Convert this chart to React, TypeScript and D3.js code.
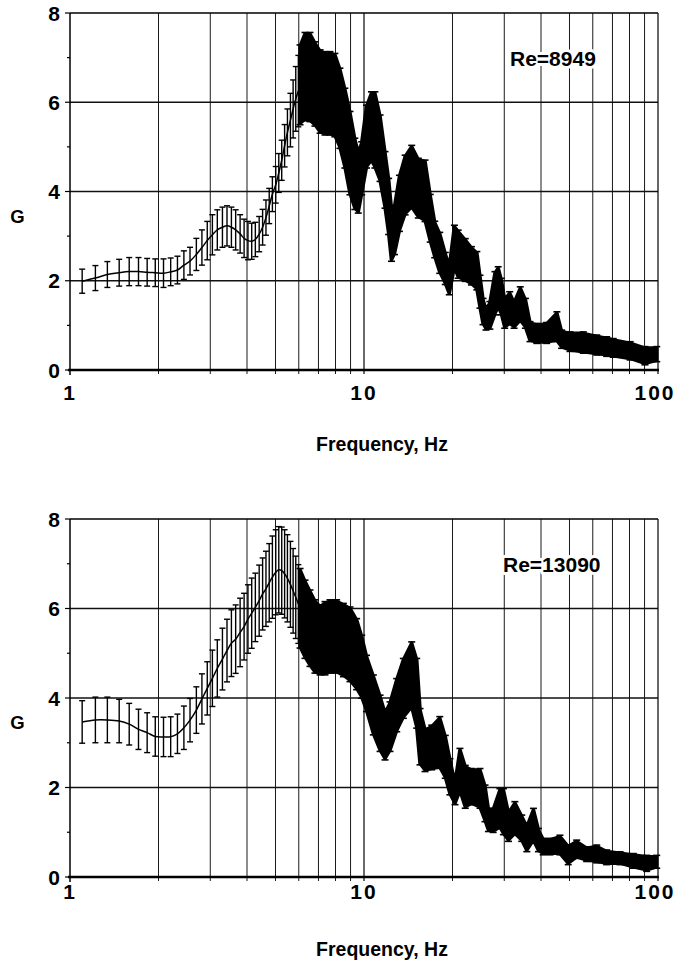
import React from 'react';
import * as d3 from 'd3';

const W = 676;
const H = 964;

// ---------- Re = 8949 (top panel) ----------
// individual error bars at low frequency
const topBarFreq = [1.10,1.22,1.34,1.47,1.59,1.71,1.83,1.95,2.08,2.20,2.32,2.44,2.56,2.69,2.81,2.93,3.05,3.17,3.30,3.42,3.54,3.66,3.79,3.91,4.03,4.15,4.27,4.40,4.52,4.64,4.76,4.88,5.01,5.13,5.25,5.37,5.49,5.62,5.74,5.86,5.98];
const topBarHi = [2.26,2.34,2.43,2.48,2.52,2.52,2.50,2.49,2.49,2.51,2.55,2.67,2.75,2.95,3.14,3.33,3.48,3.59,3.65,3.68,3.65,3.59,3.48,3.38,3.33,3.29,3.31,3.44,3.60,3.81,4.07,4.33,4.56,4.85,5.15,5.50,5.85,6.20,6.50,6.80,7.05];
const topBarLo = [1.72,1.78,1.85,1.88,1.89,1.89,1.88,1.87,1.85,1.89,1.93,2.03,2.13,2.23,2.35,2.47,2.58,2.69,2.75,2.78,2.75,2.69,2.62,2.52,2.47,2.48,2.54,2.65,2.80,3.02,3.28,3.55,3.74,3.98,4.25,4.55,4.80,5.00,5.20,5.35,5.45];
// dense region: envelope of the overlapping error bars
const topBandFreq = [6.06,6.30,6.55,6.81,7.09,7.37,7.66,7.96,8.28,8.61,8.96,9.31,9.56,9.82,10.2,10.6,10.89,11.34,11.79,12.13,12.4,12.7,13.2,13.8,14.53,15.3,16.13,16.8,17.4,18.1,18.9,19.5,20.3,20.9,22.1,23.2,24.2,24.8,25.4,26.0,26.8,27.9,28.6,29.3,30.1,31.3,32.4,34.0,35.4,36.7,38.7,41.8,45.3,47.0,50.2,55.7,61.9,66.9,70.4,80.4,90.3,99.0];
const topBandHi = [7.25,7.53,7.53,7.32,7.14,7.10,7.10,7.06,6.73,6.28,5.76,5.16,4.86,5.08,5.90,6.20,6.20,5.68,4.86,4.26,3.59,3.66,4.33,4.78,5.00,4.71,4.67,3.90,3.30,3.05,2.60,2.30,3.21,3.10,2.91,2.73,2.62,2.09,1.57,1.35,1.50,2.17,2.28,2.02,1.57,1.72,1.50,1.83,1.57,1.05,1.01,1.03,1.27,0.86,0.82,0.82,0.75,0.71,0.67,0.60,0.49,0.49];
const topBandLo = [5.53,5.62,5.60,5.50,5.34,5.30,5.30,5.26,5.00,4.56,3.96,3.63,3.55,3.96,4.56,4.71,4.56,4.26,3.66,3.07,2.47,2.62,3.14,3.51,3.66,3.44,3.36,2.90,2.55,2.20,1.95,1.72,2.32,2.09,2.02,1.94,1.83,1.42,1.05,0.93,0.95,1.27,1.42,1.27,0.97,1.05,0.97,1.12,0.97,0.67,0.63,0.63,0.67,0.52,0.45,0.41,0.37,0.34,0.32,0.26,0.15,0.22];

// ---------- Re = 13090 (bottom panel) ----------
const botBarFreq = [1.10,1.22,1.34,1.47,1.59,1.71,1.83,1.95,2.08,2.20,2.32,2.44,2.56,2.69,2.81,2.93,3.05,3.17,3.30,3.42,3.54,3.66,3.79,3.91,4.03,4.15,4.27,4.40,4.52,4.64,4.76,4.88,5.01,5.13,5.25,5.37,5.49,5.62,5.74,5.86,5.98];
const botBarHi = [3.94,4.02,4.02,3.97,3.88,3.75,3.67,3.58,3.57,3.58,3.64,3.82,3.99,4.25,4.54,4.81,5.07,5.30,5.56,5.76,5.97,6.08,6.23,6.34,6.53,6.68,6.79,6.97,7.13,7.28,7.45,7.62,7.76,7.83,7.82,7.76,7.65,7.50,7.34,7.17,6.98];
const botBarLo = [2.99,3.00,3.00,3.00,2.95,2.85,2.78,2.70,2.69,2.69,2.76,2.85,3.02,3.21,3.42,3.62,3.81,4.02,4.18,4.36,4.48,4.55,4.70,4.85,5.00,5.11,5.26,5.38,5.52,5.60,5.70,5.78,5.86,5.90,5.87,5.79,5.70,5.58,5.45,5.33,5.22];
const botBandFreq = [6.06,6.30,6.55,6.81,7.09,7.37,7.66,8.07,8.51,8.96,9.44,9.82,10.2,10.76,11.34,11.79,12.26,12.92,13.61,14.53,15.11,15.51,16.13,17.0,18.1,18.9,19.6,20.4,21.2,22.1,23.2,24.8,25.8,26.5,27.5,29.0,29.8,31.0,32.6,34.4,35.8,37.7,39.2,40.7,42.9,46.4,49.5,52.9,57.2,61.9,66.9,74.3,82.4,91.5,99.0];
const botBandHi = [6.86,6.60,6.38,6.16,6.04,6.12,6.16,6.16,6.08,6.00,5.74,5.37,4.92,4.48,4.03,3.66,3.88,4.40,4.85,5.22,4.85,3.73,3.28,3.36,3.55,3.13,2.61,2.09,2.84,2.46,2.39,2.39,2.02,1.50,1.50,1.94,1.94,1.42,1.65,1.35,1.12,1.50,1.05,0.83,0.83,0.90,0.68,0.79,0.64,0.68,0.57,0.53,0.49,0.45,0.45];
const botBandLo = [5.15,4.92,4.74,4.59,4.55,4.55,4.59,4.59,4.51,4.40,4.22,4.03,3.73,3.21,2.84,2.65,2.84,3.28,3.58,3.81,3.36,2.54,2.39,2.43,2.46,2.24,1.87,1.65,1.94,1.57,1.65,1.57,1.27,1.05,1.03,1.12,0.98,0.83,0.98,0.83,0.60,0.83,0.60,0.53,0.53,0.53,0.31,0.45,0.38,0.35,0.31,0.31,0.23,0.16,0.23];

// axes
const xDomain = [1, 100];
const yDomain = [0, 8];
const yTickValues = [0, 2, 4, 6, 8];
const xTickLabels = [1, 10, 100];
const xTitle = 'Frequency, Hz';
const yTitle = 'G';

const FONT = '"Liberation Sans", Arial, sans-serif';

const xScale = d3.scaleLog().domain(xDomain).range([70, 658]);

type PanelProps = {
  y: d3.ScaleLinear<number, number>;
  barF: number[]; barHi: number[]; barLo: number[];
  bandF: number[]; bandHi: number[]; bandLo: number[];
  label: string; labelX: number; labelY: number;
  tickLabelY: number; titleY: number; gY: number;
};

function Panel(p: PanelProps) {
  const x = xScale;
  const y = p.y;
  const y0 = y(0);
  const yTop = y(8);
  const xL = x(1);
  const xR = x(100);
  const grid = x.ticks().filter(t => t > 1 && t < 100);
  const bandIdx = d3.range(p.bandF.length);
  const barIdx = d3.range(p.barF.length);
  const area = d3.area<number>()
    .x(i => x(p.bandF[i]))
    .y0(i => y(p.bandLo[i]))
    .y1(i => y(p.bandHi[i]))
    .curve(d3.curveLinear);
  const mean = d3.line<number>()
    .x(i => x(p.barF[i]))
    .y(i => y((p.barHi[i] + p.barLo[i]) / 2))
    .curve(d3.curveCatmullRom);
  const cap = 3;
  const bandCap = 3.5;
  const minorY = d3.range(0, 9);
  return (
    <g>
      {/* vertical gridlines */}
      {grid.map(t => (
        <line key={'v' + t} x1={x(t)} x2={x(t)} y1={yTop} y2={y0 + 4} stroke="#1a1a1a" strokeWidth={t === 10 ? 1.3 : 1} />
      ))}
      {/* horizontal gridlines */}
      {[2, 4, 6].map(v => (
        <line key={'h' + v} x1={xL} x2={xR} y1={y(v)} y2={y(v)} stroke="#111" strokeWidth={1.3} />
      ))}
      {/* frame */}
      <line x1={xL} x2={xR} y1={yTop} y2={yTop} stroke="#000" strokeWidth={1.6} />
      <line x1={xR} x2={xR} y1={yTop} y2={y0 + 4} stroke="#000" strokeWidth={1.2} />
      <line x1={xL} x2={xL} y1={yTop} y2={y0 + 5} stroke="#000" strokeWidth={1.5} />
      {/* y ticks */}
      {minorY.map(v => (
        <line key={'yt' + v} x1={xL - (v % 2 === 0 ? 5 : 3)} x2={xL} y1={y(v)} y2={y(v)} stroke="#000" strokeWidth={1.2} />
      ))}
      {/* band of dense error bars */}
      <path d={area(bandIdx) || ''} fill="#000" stroke="#000" strokeWidth={3.6} strokeLinejoin="round" />
      {bandIdx.map(i => (
        <g key={'bb' + i} stroke="#000" strokeWidth={1.6}>
          <line x1={x(p.bandF[i]) - bandCap} x2={x(p.bandF[i]) + bandCap} y1={y(p.bandHi[i]) - 1.5} y2={y(p.bandHi[i]) - 1.5} />
          <line x1={x(p.bandF[i]) - bandCap} x2={x(p.bandF[i]) + bandCap} y1={y(p.bandLo[i]) + 1.5} y2={y(p.bandLo[i]) + 1.5} />
        </g>
      ))}
      {/* individual error bars */}
      {barIdx.map(i => {
        const xi = x(p.barF[i]);
        return (
          <g key={'eb' + i} stroke="#000" strokeWidth={1.4}>
            <line x1={xi} x2={xi} y1={y(p.barHi[i])} y2={y(p.barLo[i])} />
            <line x1={xi - cap} x2={xi + cap} y1={y(p.barHi[i])} y2={y(p.barHi[i])} />
            <line x1={xi - cap} x2={xi + cap} y1={y(p.barLo[i])} y2={y(p.barLo[i])} />
          </g>
        );
      })}
      <path d={mean(barIdx) || ''} fill="none" stroke="#000" strokeWidth={1.5} />
      {/* x axis */}
      <line x1={xL - 2} x2={xR + 1} y1={y0} y2={y0} stroke="#000" strokeWidth={2.6} />
      {/* tick labels */}
      {yTickValues.map(v => (
        <text key={'yl' + v} x={60} y={y(v) + 7.5} textAnchor="end" fontFamily={FONT} fontWeight="bold" fontSize={21}>{v}</text>
      ))}
      {xTickLabels.map(v => (
        <text key={'xl' + v} x={x(v) + (v === 100 ? -3 : v === 1 ? -1 : 0)} y={p.tickLabelY} textAnchor="middle" fontFamily={FONT} fontWeight="bold" fontSize={21} letterSpacing={v === 1 ? 0 : 2}>{v}</text>
      ))}
      <text x={382} y={p.titleY} textAnchor="middle" fontFamily={FONT} fontWeight="bold" fontSize={19.5}>{xTitle}</text>
      <text x={17.5} y={p.gY} textAnchor="middle" fontFamily={FONT} fontWeight="bold" fontSize={18.5}>{yTitle}</text>
      <text x={p.labelX} y={p.labelY} fontFamily={FONT} fontWeight="bold" fontSize={21} stroke="#fff" strokeWidth={6} paintOrder="stroke" fill="#000" strokeLinejoin="round">{p.label}</text>
    </g>
  );
}

export default function App() {
  const yTopScale = d3.scaleLinear().domain(yDomain).range([370, 13]);
  const yBotScale = d3.scaleLinear().domain(yDomain).range([877, 519]);
  return (
    <svg width={W} height={H} viewBox={`0 0 ${W} ${H}`} style={{ position: 'absolute', left: 0, top: 0, background: '#fff' }}>
      <rect x={0} y={0} width={W} height={H} fill="#fff" />
      <Panel y={yTopScale} barF={topBarFreq} barHi={topBarHi} barLo={topBarLo}
        bandF={topBandFreq} bandHi={topBandHi} bandLo={topBandLo}
        label="Re=8949" labelX={510} labelY={66} tickLabelY={400} titleY={451} gY={223} />
      <Panel y={yBotScale} barF={botBarFreq} barHi={botBarHi} barLo={botBarLo}
        bandF={botBandFreq} bandHi={botBandHi} bandLo={botBandLo}
        label="Re=13090" labelX={503} labelY={572} tickLabelY={899} titleY={956} gY={729} />
    </svg>
  );
}
